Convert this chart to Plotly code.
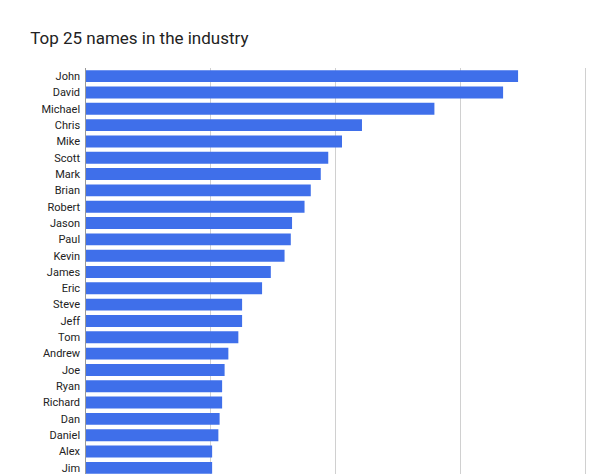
import plotly.graph_objects as go

names = ["John","David","Michael","Chris","Mike","Scott","Mark","Brian","Robert","Jason","Paul","Kevin","James","Eric","Steve","Jeff","Tom","Andrew","Joe","Ryan","Richard","Dan","Daniel","Alex","Jim"]
counts = [346,334,279,221,205,194,188,180,175,165,164,159,148,141,125,125,122,114,111,109,109,107,106,101,101]

fig = go.Figure(go.Bar(x=counts, y=names, orientation="h", marker_color="#3f6fea",
                       marker_line_width=0))
fig.update_layout(
    width=600, height=474, plot_bgcolor="white", paper_bgcolor="white",
    margin=dict(l=78, r=10, t=60, b=6, autoexpand=False),
    bargap=0.27, showlegend=False,
    title=dict(text="Top 25 names in the industry", x=0.037, xanchor="left", y=0.937, yanchor="middle",
               font=dict(family="Roboto", size=17, color="#222")),
    font=dict(family="Roboto", size=11, color="#222"),
)
fig.update_xaxes(range=[0,410], tickvals=[0,100,200,300,400], showticklabels=False,
                 showgrid=True, gridcolor="#d0d0d0", zeroline=False, automargin=False)
fig.update_yaxes(categoryorder="array", categoryarray=names[::-1], showline=True,
                 linecolor="#999", ticks="", ticksuffix=" ", automargin=False)
fig.write_html("out.html")
